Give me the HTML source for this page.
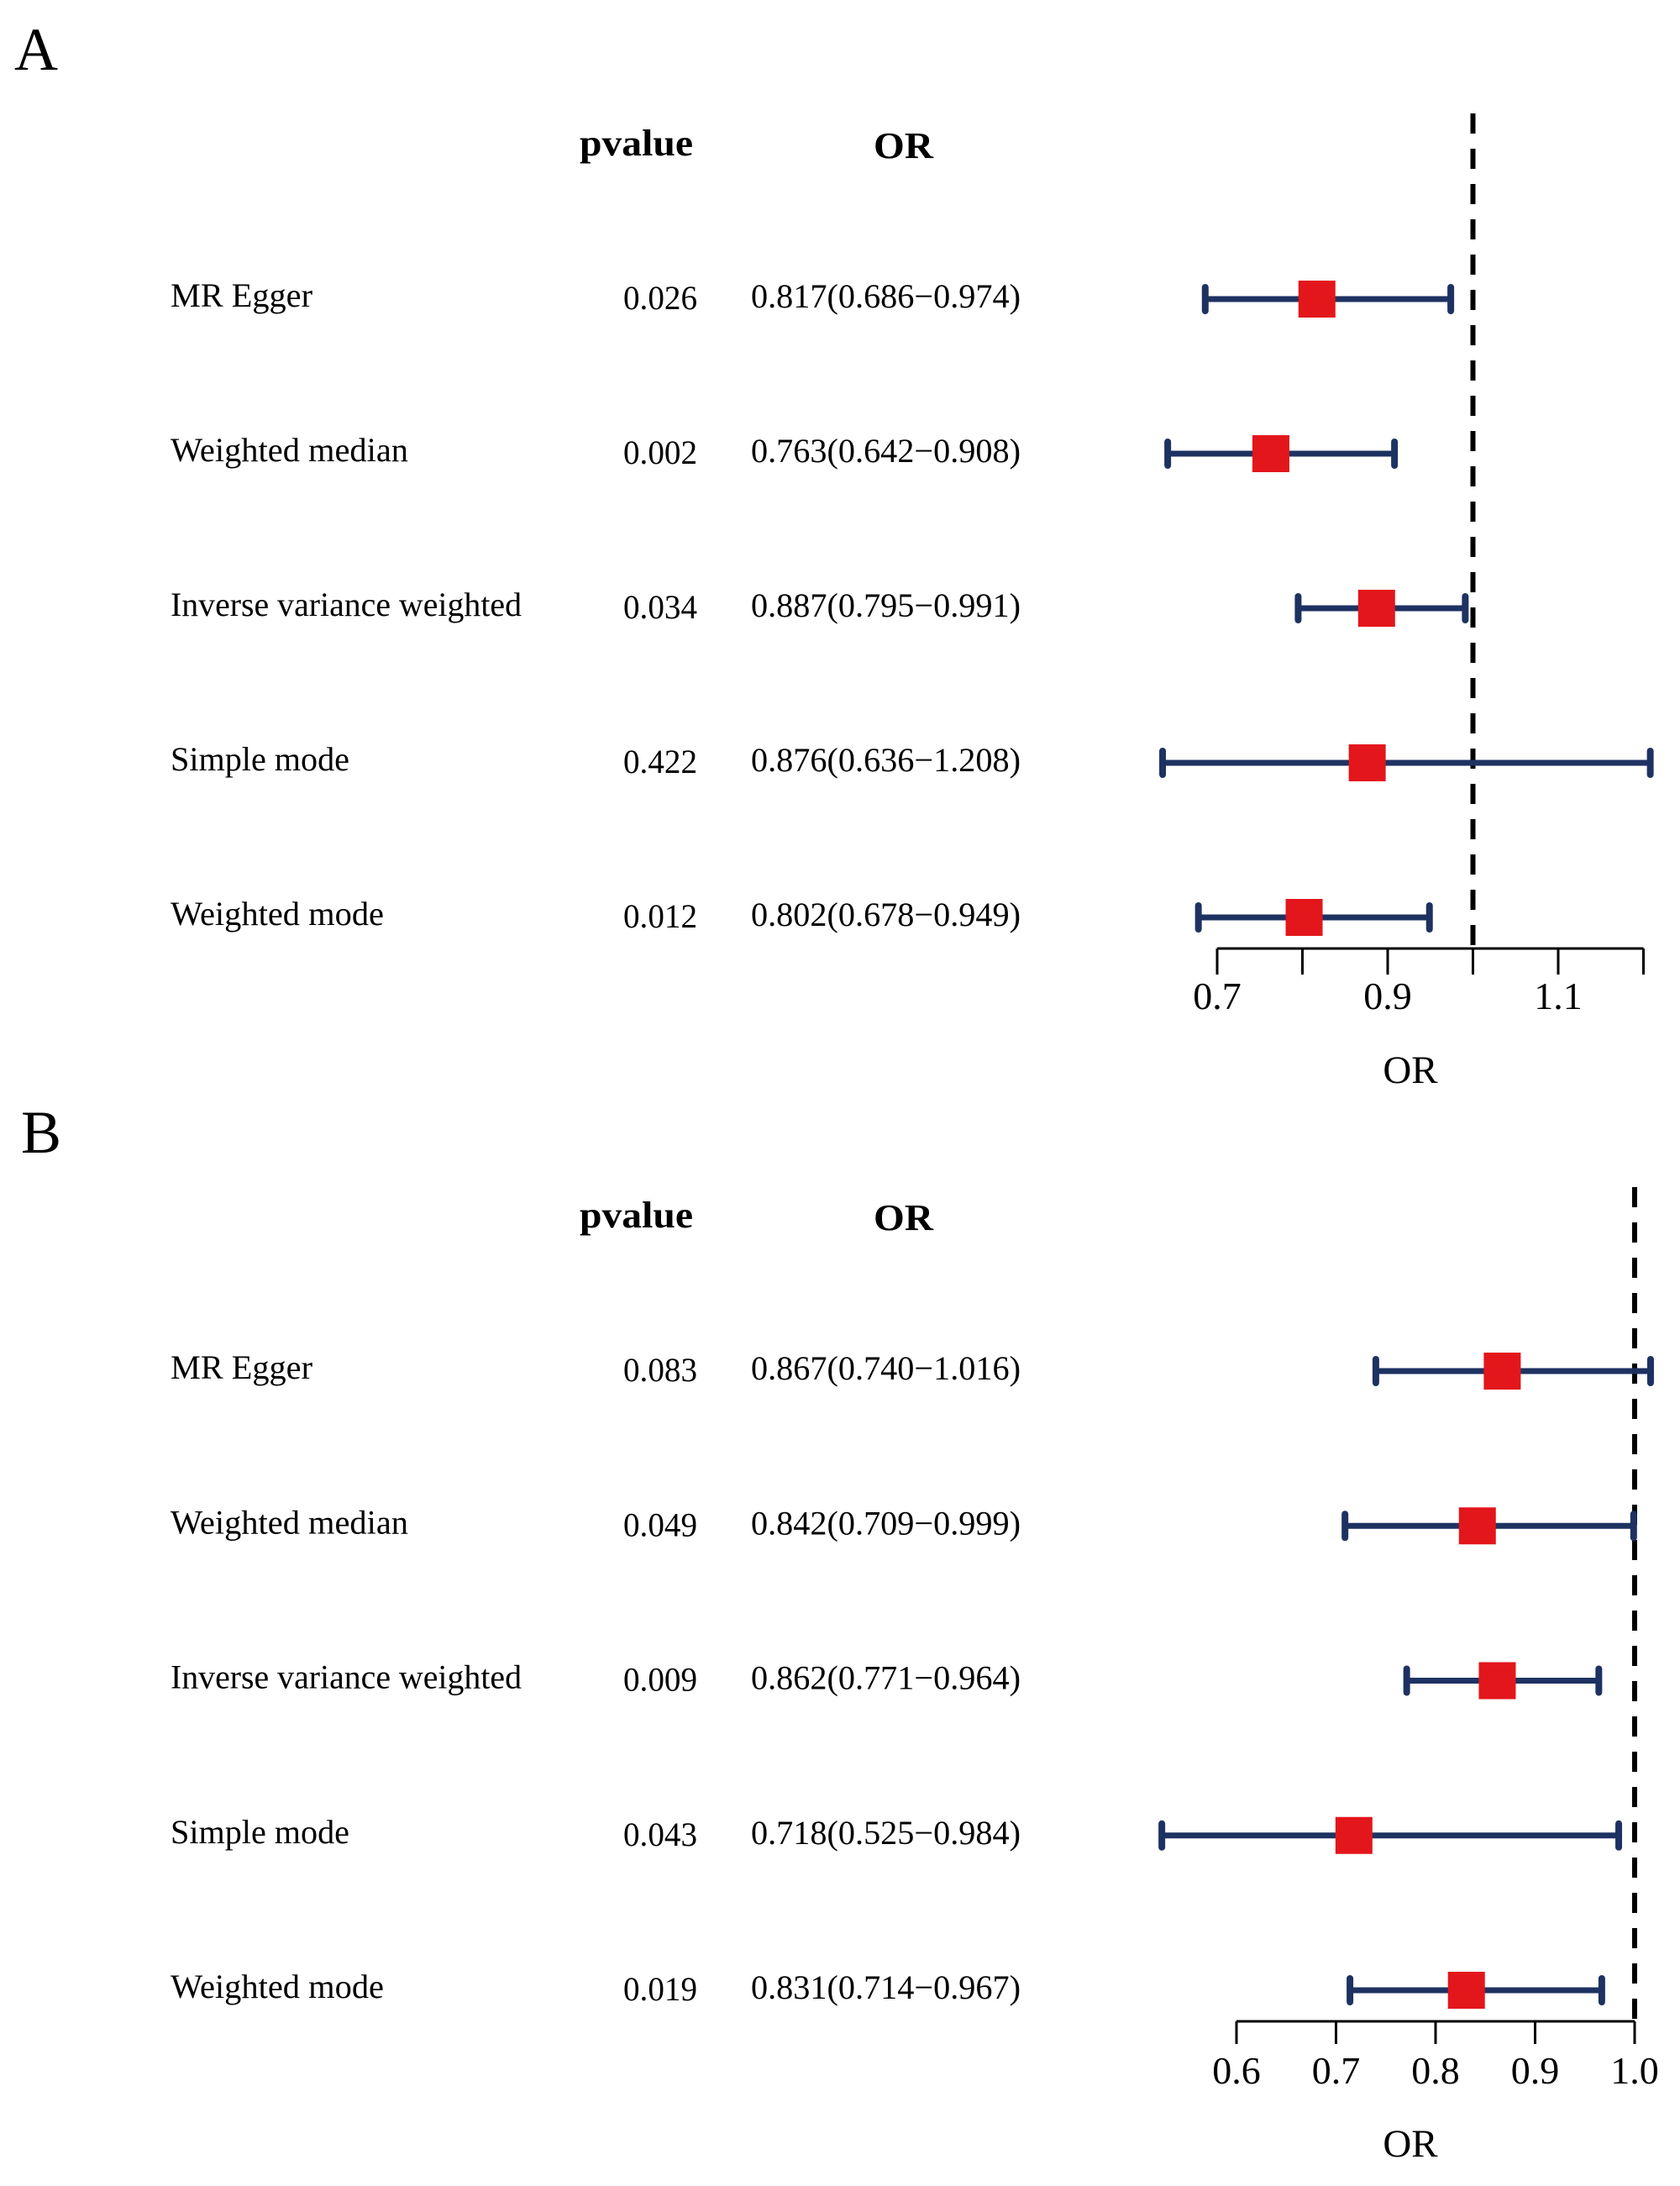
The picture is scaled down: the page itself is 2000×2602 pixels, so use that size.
<!DOCTYPE html>
<html><head><meta charset="utf-8"><style>
html,body{margin:0;padding:0;background:#fff;}
svg{display:block;}
text{font-family:"Liberation Serif",serif;fill:#000;}
</style></head>
<body>
<svg id="chart" width="2000" height="2602" viewBox="0 0 2000 2602" xmlns="http://www.w3.org/2000/svg"></svg>
<script>
const methods = ["MR Egger","Weighted median","Inverse variance weighted","Simple mode","Weighted mode"];
const methodWidths = [169,283,418,213,254];
const pvalA = ["0.026","0.002","0.034","0.422","0.012"];
const orA = [0.817,0.763,0.887,0.876,0.802];
const lowA = [0.686,0.642,0.795,0.636,0.678];
const highA = [0.974,0.908,0.991,1.208,0.949];
const ticksA = [0.7,0.8,0.9,1.0,1.1,1.2];
const tickLabelsA = ["0.7","","0.9","","1.1",""];
const pvalB = ["0.083","0.049","0.009","0.043","0.019"];
const orB = [0.867,0.842,0.862,0.718,0.831];
const lowB = [0.740,0.709,0.771,0.525,0.714];
const highB = [1.016,0.999,0.964,0.984,0.967];
const ticksB = [0.6,0.7,0.8,0.9,1.0];
const tickLabelsB = ["0.6","0.7","0.8","0.9","1.0"];

const NS="http://www.w3.org/2000/svg";
const svg=document.getElementById('chart');
function el(tag,attrs,parent){const e=document.createElementNS(NS,tag);for(const k in attrs)e.setAttribute(k,attrs[k]);(parent||svg).appendChild(e);return e;}
function fmt(v){return v.toFixed(3);}

function panel(cfg){
  const g=el('g',{});
  
  
  const xs=v=>cfg.x0+(v-cfg.v0)*cfg.k;
  let t=el('text',{x:cfg.letterX,y:cfg.letterY,'font-size':72},g);t.textContent=cfg.letter;
  
  
  t=el('text',{x:690,y:cfg.headY,'font-size':44,'font-weight':'bold',textLength:135,lengthAdjust:'spacingAndGlyphs'},g);t.textContent='pvalue';
  
  
  t=el('text',{x:1040,y:cfg.headY+3,'font-size':44,'font-weight':'bold',textLength:71,lengthAdjust:'spacingAndGlyphs'},g);t.textContent='OR';
  
  
  const ref=el('line',{x1:xs(1),x2:xs(1),y1:cfg.dashTop,y2:cfg.axisY,stroke:'#000','stroke-width':6,'stroke-dasharray':'24 18'},g);
  
  
  for(let i=0;i<methods.length;i++){
    const y=cfg.rowY0+i*cfg.rowStep;
    t=el('text',{x:203,y:y+9,'font-size':40,textLength:methodWidths[i],lengthAdjust:'spacingAndGlyphs'},g);t.textContent=methods[i];
    
    
    t=el('text',{x:830,y:y+12,'font-size':40,'text-anchor':'end',textLength:88,lengthAdjust:'spacingAndGlyphs'},g);t.textContent=cfg.pv[i];
    
    
    t=el('text',{x:894,y:y+10,'font-size':40,textLength:321,lengthAdjust:'spacingAndGlyphs'},g);t.textContent=fmt(cfg.or[i])+'('+fmt(cfg.lo[i])+'\u2212'+fmt(cfg.hi[i])+')';
    
    
    const ln=el('line',{x1:xs(cfg.lo[i]),x2:xs(cfg.hi[i]),y1:y,y2:y,stroke:'#1e3262','stroke-width':7},g);
    
    
    [cfg.lo[i],cfg.hi[i]].forEach(v=>{
      const c=el('rect',{x:xs(v)-4,y:y-18,width:8,height:36,rx:4,fill:'#1e3262'},g);
      
      
    });
    const b=el('rect',{x:xs(cfg.or[i])-22,y:y-22,width:44,height:44,fill:'#e3161b'},g);
    
    
  }
  const ax=el('line',{x1:xs(cfg.ticks[0]),x2:xs(cfg.ticks[cfg.ticks.length-1]),y1:cfg.axisY,y2:cfg.axisY,stroke:'#000','stroke-width':3},g);
  
  
  cfg.ticks.forEach((v,j)=>{
    const tk=el('line',{x1:xs(v),x2:xs(v),y1:cfg.axisY,y2:cfg.axisY+cfg.tickLen,stroke:'#000','stroke-width':3},g);
    
    
    if(cfg.tl[j]){
      const tt=el('text',{x:xs(v),y:cfg.tickLabY,'font-size':46,'text-anchor':'middle'},g);tt.textContent=cfg.tl[j];
      
      
    }
  });
  t=el('text',{x:cfg.orTitleX,y:cfg.orTitleY,'font-size':47,'text-anchor':'middle'},g);t.textContent='OR';
  
  
}
panel({letter:'A',letterX:17,letterY:83,headY:185,x0:1449,v0:0.7,k:1015,dashTop:135,axisY:1129,tickLen:31,tickLabY:1201,orTitleX:1679,orTitleY:1289,
  rowY0:356,rowStep:184,pv:pvalA,or:orA,lo:lowA,hi:highA,ticks:ticksA,tl:tickLabelsA});
panel({letter:'B',letterX:25,letterY:1372,headY:1461,x0:1472,v0:0.6,k:1185,dashTop:1413,axisY:2406,tickLen:27,tickLabY:2480,orTitleX:1679,orTitleY:2567,
  rowY0:1632,rowStep:184.25,pv:pvalB,or:orB,lo:lowB,hi:highB,ticks:ticksB,tl:tickLabelsB});
</script>
</body></html>
